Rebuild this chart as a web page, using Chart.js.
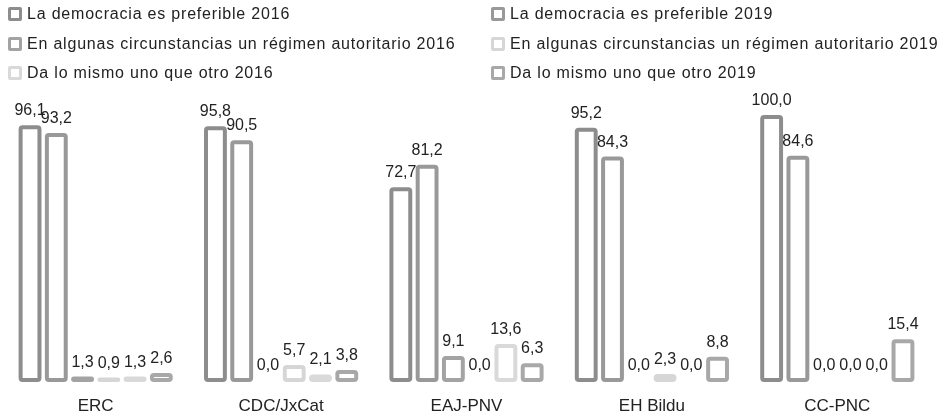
<!DOCTYPE html>
<html>
<head>
<meta charset="utf-8">
<script src="https://cdn.jsdelivr.net/npm/chart.js@4.4.1/dist/chart.umd.min.js"></script>
<style>
  html, body { margin: 0; padding: 0; background: #fff; }
  #wrap { position: relative; width: 952px; height: 417px; overflow: hidden; }
  #chart { position: absolute; left: 0; top: 0; }
  #legend { position: absolute; left: 0; top: 0; width: 952px; height: 90px;
    font-family: "Liberation Sans", Arial, sans-serif; font-size: 16px; color: #222; letter-spacing: 0.8px; }
  .item { position: absolute; display: flex; align-items: center; white-space: nowrap; }
  .box { width: 8px; height: 8px; border: 3px solid #999; border-radius: 2px; margin-right: 5px; background: #fff; }
</style>
</head>
<body>
<div id="wrap">
  <canvas id="chart" width="952" height="417"></canvas>
  <div id="legend"></div>
</div>
<script>
// parties on the x axis
const categories = ['ERC', 'CDC/JxCat', 'EAJ-PNV', 'EH Bildu', 'CC-PNC'];

const seriesNames = [
  'La democracia es preferible 2016',
  'La democracia es preferible 2019',
  'En algunas circunstancias un régimen autoritario 2016',
  'En algunas circunstancias un régimen autoritario 2019',
  'Da lo mismo uno que otro 2016',
  'Da lo mismo uno que otro 2019'
];

// values per series, one per party
const demo2016 = [96.1, 95.8, 72.7, 95.2, 100.0];
const demo2019 = [93.2, 90.5, 81.2, 84.3, 84.6];
const auth2016 = [1.3, 0.0, 9.1, 0.0, 0.0];
const auth2019 = [0.9, 5.7, 0.0, 2.3, 0.0];
const same2016 = [1.3, 2.1, 13.6, 0.0, 0.0];
const same2019 = [2.6, 3.8, 6.3, 8.8, 15.4];

const seriesColors = ['#8d8d8d', '#999999', '#a3a3a3', '#d6d6d6', '#d9d9d9', '#a8a8a8'];

const allValues = [demo2016, demo2019, auth2016, auth2019, same2016, same2019];

const LW = 4; // outline width of the hollow bars

const datasets = allValues.map((vals, i) => ({
  label: seriesNames[i],
  data: vals,
  backgroundColor: 'rgba(0,0,0,0)',
  borderWidth: 0,
  outlineColor: seriesColors[i]
}));

// hollow bars: stroke each bar element centred on its outline
const outlineBars = {
  id: 'outlineBars',
  afterDatasetsDraw(chart) {
    const ctx = chart.ctx;
    ctx.save();
    chart.data.datasets.forEach((ds, di) => {
      const meta = chart.getDatasetMeta(di);
      meta.data.forEach((bar, j) => {
        if (!ds.data[j]) return;
        const p = bar.getProps(['x', 'y', 'base', 'width'], true);
        const left = p.x - p.width / 2 + LW / 2;
        const w = p.width - LW;
        const bottom = p.base - LW / 2;
        const top = Math.min(p.y, bottom - 0.5);
        ctx.beginPath();
        ctx.roundRect(left, top, w, bottom - top, 2);
        ctx.lineWidth = LW;
        ctx.strokeStyle = ds.outlineColor;
        ctx.stroke();
      });
    });
    ctx.restore();
  }
};

// value labels above each bar, comma decimal
const valueLabels = {
  id: 'valueLabels',
  afterDatasetsDraw(chart) {
    const ctx = chart.ctx;
    ctx.save();
    ctx.font = '16px "Liberation Sans", Arial, sans-serif';
    ctx.fillStyle = '#222';
    ctx.textAlign = 'center';
    ctx.textBaseline = 'alphabetic';
    chart.data.datasets.forEach((ds, di) => {
      const meta = chart.getDatasetMeta(di);
      meta.data.forEach((bar, j) => {
        const txt = ds.data[j].toFixed(1).replace('.', ',');
        ctx.fillText(txt, bar.x, bar.y - 12);
      });
    });
    ctx.restore();
  }
};

new Chart(document.getElementById('chart'), {
  type: 'bar',
  data: { labels: categories, datasets: datasets },
  options: {
    responsive: false,
    animation: false,
    layout: { padding: { top: 117, left: 3, right: 22, bottom: 0 } },
    plugins: { legend: { display: false }, tooltip: { enabled: false } },
    datasets: { bar: { categoryPercentage: 0.85, barPercentage: 0.87 } },
    scales: {
      x: {
        grid: { display: false, drawTicks: false },
        border: { display: false },
        ticks: { color: '#222', padding: 14, font: { family: '"Liberation Sans", Arial, sans-serif', size: 17 } },
        afterFit(scale) { scale.height = 35; }
      },
      y: { display: false, min: 0, max: 100 }
    }
  },
  plugins: [outlineBars, valueLabels]
});

// legend in two columns
const legend = document.getElementById('legend');
const rowsY = [5, 35, 64];
seriesNames.forEach((name, i) => {
  const el = document.createElement('div');
  el.className = 'item';
  el.style.left = (i % 2 === 0 ? 8 : 491) + 'px';
  el.style.top = rowsY[Math.floor(i / 2)] + 'px';
  el.innerHTML = '<span class="box" style="border-color:' + seriesColors[i] + '"></span>' + name;
  legend.appendChild(el);
});
</script>
</body>
</html>
